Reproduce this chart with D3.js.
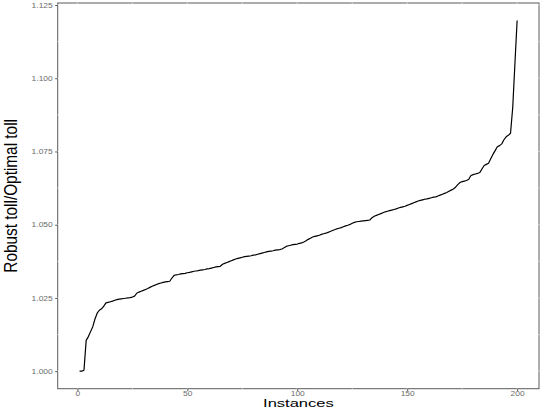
<!DOCTYPE html>
<html>
<head>
<meta charset="utf-8">
<script src="https://d3js.org/d3.v7.min.js"></script>
<style>
  body { margin: 0; background: #fff; }
  svg { display: block; font-family: "Liberation Sans", Arial, sans-serif; }
</style>
</head>
<body>
<svg id="chart" width="545" height="409"></svg>
<script>
// ratio robust toll / optimal toll, sorted, one value per instance
var ratios = [
  1.0000, 1.0000, 1.0003, 1.0105, 1.0118, 1.0135, 1.0152, 1.0178, 1.0198, 1.0208,
  1.0213, 1.0222, 1.0233, 1.0235, 1.0237, 1.0239, 1.0242, 1.0244, 1.0246, 1.0247,
  1.0248, 1.0249, 1.0250, 1.0251, 1.0253, 1.0256, 1.0266, 1.0270, 1.0273, 1.0276,
  1.0279, 1.0282, 1.0286, 1.0290, 1.0293, 1.0296, 1.0299, 1.0301, 1.0303, 1.0305,
  1.0306, 1.0307, 1.0318, 1.0327, 1.0329, 1.0330, 1.0332, 1.0333, 1.0334, 1.0336,
  1.0337, 1.0339, 1.0341, 1.0342, 1.0343, 1.0345, 1.0346, 1.0347, 1.0349, 1.0350,
  1.0352, 1.0354, 1.0356, 1.0357, 1.0358, 1.0365, 1.0368, 1.0371, 1.0374, 1.0377,
  1.0380, 1.0383, 1.0385, 1.0387, 1.0389, 1.0391, 1.0392, 1.0393, 1.0394, 1.0396,
  1.0397, 1.0399, 1.0401, 1.0403, 1.0405, 1.0407, 1.0409, 1.0410, 1.0411, 1.0413,
  1.0414, 1.0415, 1.0417, 1.0421, 1.0426, 1.0428, 1.0430, 1.0432, 1.0433, 1.0434,
  1.0436, 1.0438, 1.0441, 1.0445, 1.0450, 1.0454, 1.0458, 1.0460, 1.0462, 1.0464,
  1.0467, 1.0469, 1.0471, 1.0474, 1.0477, 1.0480, 1.0483, 1.0486, 1.0488, 1.0490,
  1.0493, 1.0496, 1.0498, 1.0501, 1.0505, 1.0508, 1.0510, 1.0511, 1.0512, 1.0513,
  1.0514, 1.0515, 1.0516, 1.0524, 1.0529, 1.0532, 1.0535, 1.0538, 1.0541, 1.0544,
  1.0546, 1.0548, 1.0550, 1.0552, 1.0554, 1.0557, 1.0559, 1.0561, 1.0563, 1.0566,
  1.0569, 1.0572, 1.0575, 1.0578, 1.0581, 1.0583, 1.0585, 1.0587, 1.0588, 1.0590,
  1.0592, 1.0594, 1.0595, 1.0598, 1.0601, 1.0604, 1.0607, 1.0610, 1.0614, 1.0618,
  1.0622, 1.0628, 1.0637, 1.0644, 1.0647, 1.0649, 1.0651, 1.0655, 1.0668, 1.0671,
  1.0673, 1.0675, 1.0678, 1.0690, 1.0702, 1.0706, 1.0710, 1.0725, 1.0740, 1.0753,
  1.0766, 1.0770, 1.0776, 1.0790, 1.0800, 1.0805, 1.0812, 1.0900, 1.1050, 1.1197
];
var instances = d3.range(1, ratios.length + 1);

var xTicks = [0, 50, 100, 150, 200];
var xMinor = [25, 75, 125, 175];
var yTicks = [1.000, 1.025, 1.050, 1.075, 1.100, 1.125];
var yMinor = [1.0125, 1.0375, 1.0625, 1.0875, 1.1125];

var xLabel = "Instances";
var yLabel = "Robust toll/Optimal toll";

var svg = d3.select("#chart");
// panel box (note: "top" is a reserved window property, so use other names)
var pLeft = 57.7, pRight = 539, pTop = 3, pBottom = 388.7;

// ggplot style 5% expansion
function expand(ext) {
  var r = ext[1] - ext[0];
  return [ext[0] - r * 0.05, ext[1] + r * 0.05];
}

var x = d3.scaleLinear().domain(expand(d3.extent(instances))).range([pLeft, pRight]);
var y = d3.scaleLinear().domain(expand(d3.extent(ratios))).range([pBottom, pTop]);

// panel border
svg.append("rect")
  .attr("x", pLeft).attr("y", pTop)
  .attr("width", pRight - pLeft).attr("height", pBottom - pTop)
  .attr("fill", "#fff")
  .attr("stroke", "#5a5a5a")
  .attr("stroke-width", 1);

// white grid (only shows where it crosses the border)
var grid = svg.append("g").attr("stroke", "#fff").attr("stroke-opacity", 0.6).attr("stroke-width", 1);
grid.selectAll("line.gx").data(xTicks.concat(xMinor)).join("line")
  .attr("x1", d => x(d)).attr("x2", d => x(d))
  .attr("y1", pTop - 0.5).attr("y2", pBottom + 0.5);
grid.selectAll("line.gy").data(yTicks.concat(yMinor)).join("line")
  .attr("y1", d => y(d)).attr("y2", d => y(d))
  .attr("x1", pLeft - 0.5).attr("x2", pRight + 0.5);

// axes
var gx = svg.append("g")
  .attr("transform", "translate(0," + pBottom + ")")
  .call(d3.axisBottom(x).tickValues(xTicks).tickSize(2.5).tickPadding(0.5).tickFormat(d3.format("d")));
var gy = svg.append("g")
  .attr("transform", "translate(" + pLeft + ",0)")
  .call(d3.axisLeft(y).tickValues(yTicks).tickSize(2.5).tickFormat(d3.format(".3f")));

[gx, gy].forEach(function(g) {
  g.select(".domain").remove();
  g.selectAll(".tick line").attr("stroke", "#5a5a5a");
  g.selectAll(".tick text")
    .attr("fill", "#6b6b6b")
    .style("font-size", "6.5px")
    .style("font-family", "'Liberation Sans', Arial, sans-serif");
});
gx.selectAll(".tick text").attr("transform", "scale(1.3,1)").attr("dy", "0.65em");
gy.selectAll(".tick text").attr("x", -5 / 1.3).attr("transform", "scale(1.3,1)");

// the curve
svg.append("path")
  .datum(ratios)
  .attr("fill", "none")
  .attr("stroke", "#000")
  .attr("stroke-width", 1.2)
  .attr("stroke-linejoin", "round")
  .attr("d", d3.line().x((d, i) => x(instances[i])).y(d => y(d)));

// axis titles
svg.append("text")
  .attr("transform", "translate(" + (pLeft + pRight) / 2 + ",406.8) scale(1.65,1)")
  .attr("text-anchor", "middle")
  .style("font-size", "10px")
  .attr("fill", "#000")
  .text(xLabel);

svg.append("text")
  .attr("transform", "translate(17," + (pTop + pBottom) / 2 + ") rotate(-90) scale(0.83,1)")
  .attr("text-anchor", "middle")
  .style("font-size", "18.5px")
  .attr("fill", "#000")
  .text(yLabel);
</script>
</body>
</html>
